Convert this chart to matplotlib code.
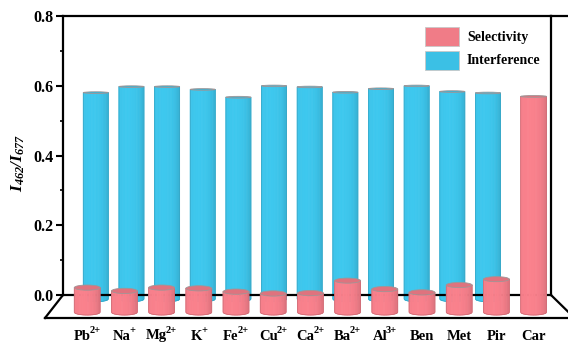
import numpy as np
import matplotlib
matplotlib.use("Agg")
import matplotlib.pyplot as plt
from matplotlib.patches import Polygon, Ellipse, Rectangle
from matplotlib.lines import Line2D

plt.rcParams["font.family"] = ["Liberation Serif", "DejaVu Serif"]
plt.rcParams["mathtext.fontset"] = "custom"
plt.rcParams["mathtext.rm"] = "Liberation Serif"
plt.rcParams["mathtext.it"] = "Liberation Serif:italic"
plt.rcParams["mathtext.bf"] = "Liberation Serif:bold"
plt.rcParams["mathtext.bfit"] = "Liberation Serif:italic:bold"

# ---- data ----
names = ["Pb", "Na", "Mg", "K", "Fe", "Cu", "Ca", "Ba", "Al", "Ben", "Met", "Pir", "Car"]
charges = ["2+", "+", "2+", "+", "2+", "2+", "2+", "2+", "3+", "", "", "", ""]
selectivity = [0.067, 0.058, 0.067, 0.065, 0.056, 0.051, 0.052,
               0.086, 0.063, 0.054, 0.074, 0.090, 0.588]
interference = [0.583, 0.600, 0.600, 0.592, 0.570, 0.602, 0.599,
                0.584, 0.594, 0.602, 0.586, 0.582, np.nan]
yticks = [0.0, 0.2, 0.4, 0.6, 0.8]
series_names = ["Selectivity", "Interference"]
pink = "#F07C87"
blue = "#3BC0E5"

W, H = 568, 343
fig = plt.figure(figsize=(W / 100, H / 100), dpi=100)

# back wall of the pseudo-3D box (pixel geometry)
WALL_L, WALL_R, WALL_T, WALL_B = 63, 551, 16, 295
FRONT_Y, FRONT_L = 318, 45
BACK_X0, BACK_DX = 95.8, 35.65            # back-row slot spacing
PX_PER_UNIT = (WALL_B - WALL_T) / 0.8

ax = fig.add_axes([WALL_L / W, 1 - WALL_B / H, (WALL_R - WALL_L) / W,
                   (WALL_B - WALL_T) / H])


def dx(px):
    return (px - BACK_X0) / BACK_DX


def dy(py):
    return (WALL_B - py) / PX_PER_UNIT


ax.set_xlim(dx(WALL_L), dx(WALL_R))
ax.set_ylim(0, 0.8)
ax.set_yticks(yticks)
ax.set_yticklabels([f"{t:.1f}" for t in yticks], fontsize=11.5, fontweight="bold")
ax.set_yticks([0.1, 0.3, 0.5, 0.7], minor=True)
ax.tick_params(axis="y", which="major", direction="out", length=5, width=1.5, pad=1.5)
ax.tick_params(axis="y", which="minor", direction="out", length=2.5, width=1.2)
ax.set_xticks([])
for s in ax.spines.values():
    s.set_linewidth(1.6)
ax.patch.set_visible(False)

ax.set_ylabel(r"$\mathbfit{I_{462}/I_{677}}$", fontsize=12.5)
ax.yaxis.set_label_coords((27 - WALL_L) / (WALL_R - WALL_L),
                          (WALL_B - 163) / (WALL_B - WALL_T))

# rows: (first slot centre px, slot spacing px, baseline px, px per unit, bar width px)
rows = {
    "back": (BACK_X0, BACK_DX, 299.0, 354.0, 25.0),
    "front": (87.2, 37.2, 312.2, 367.0, 25.8),
}


def shade(c, f):
    r, g, b = matplotlib.colors.to_rgb(c)
    return (min(r * f, 1), min(g * f, 1), min(b * f, 1))


def cylinder(i, value, row, color, z):
    x0, sp, base, scale, w = rows[row]
    cx = x0 + sp * i
    yt = base - value * scale
    yb = base
    ht = 0.018 * yt / 2
    hb = 0.018 * yb / 2
    a = w / 2
    n = 16
    edges = np.linspace(-1, 1, n + 1)
    for k in range(n):
        t0, t1 = edges[k], edges[k + 1]
        tm = 0.5 * (t0 + t1)
        ts = np.linspace(t0, t1, 4)
        xs = cx + a * ts
        top = yt + ht * np.sqrt(np.clip(1 - ts ** 2, 0, 1))
        bot = yb + hb * np.sqrt(np.clip(1 - ts ** 2, 0, 1))
        px = np.concatenate([xs, xs[::-1]])
        py = np.concatenate([top, bot[::-1]])
        f = 1.0 + 0.04 * (1 - (tm + 0.25) ** 2) - 0.06 * max(tm, 0) ** 4
        c = shade(color, f)
        ax.add_patch(Polygon(np.column_stack([dx(px), dy(py)]), closed=True,
                             facecolor=c, edgecolor=c, lw=0.6,
                             zorder=z, clip_on=False))
    # outline of the body
    ts = np.linspace(-1, 1, 60)
    outline_x = np.concatenate([[cx - a], cx + a * ts, [cx + a]])
    outline_y = np.concatenate([[yt], yb + hb * np.sqrt(1 - ts ** 2), [yt]])
    ax.plot(dx(outline_x), dy(outline_y), color=shade(color, 0.85), lw=0.5,
            zorder=z + 0.01, clip_on=False)
    ax.add_patch(Ellipse((dx(cx), dy(yt)), width=w / BACK_DX,
                         height=2 * ht / PX_PER_UNIT,
                         facecolor=shade(color, 0.93), edgecolor="#a09596",
                         lw=0.6, zorder=z + 0.02, clip_on=False))


for i, v in enumerate(interference):
    if not np.isnan(v):
        cylinder(i, v, "back", blue, 1.0)
for i, v in enumerate(selectivity):
    cylinder(i, v, "front", pink, 3.0)

# category labels under the front row (name with a smaller raised charge)
fx0, fsp = rows["front"][0], rows["front"][1]
renderer = fig.canvas.get_renderer()
for i, (nm, ch) in enumerate(zip(names, charges)):
    cx = fx0 + fsp * i
    t1 = fig.text(0, 0, nm, fontsize=10.5, fontweight="bold")
    w1 = t1.get_window_extent(renderer).width
    w2 = 0.0
    if ch:
        t2 = fig.text(0, 0, ch, fontsize=7.5, fontweight="bold")
        w2 = t2.get_window_extent(renderer).width - 1.0
    x_left = cx - (w1 + w2) / 2
    t1.set_position((x_left / W, 1 - 339.5 / H))
    t1.set_va("baseline")
    if ch:
        t2.set_position(((x_left + w1 - 1.0) / W, 1 - 333.0 / H))
        t2.set_va("baseline")


# floor and frame edges in figure pixels
def fpx(x, y):
    return x / W, 1 - y / H


def fline(p, q):
    (x0, y0), (x1, y1) = fpx(*p), fpx(*q)
    fig.add_artist(Line2D([x0, x1], [y0, y1], color="black", lw=1.6,
                          transform=fig.transFigure, solid_capstyle="projecting"))


fline((WALL_L, WALL_B), (FRONT_L, FRONT_Y))
fline((FRONT_L, FRONT_Y), (W, FRONT_Y))
fline((WALL_R, WALL_B), (WALL_R + 24, FRONT_Y + 0.5))
fline((WALL_R, WALL_T), (W, WALL_T))

# legend
for (y0, col, name) in [(27, pink, series_names[0]), (51, blue, series_names[1])]:
    x, y = fpx(425, y0 + 19)
    fig.add_artist(Rectangle((x, y), 34 / W, 19 / H, transform=fig.transFigure,
                             facecolor=col, edgecolor="#c8c8c8", lw=0.6))
    tx, ty = fpx(467, y0 + 10)
    fig.text(tx, ty, name, ha="left", va="center", fontsize=10,
             fontweight="bold")

fig.savefig("out.png", dpi=100)
